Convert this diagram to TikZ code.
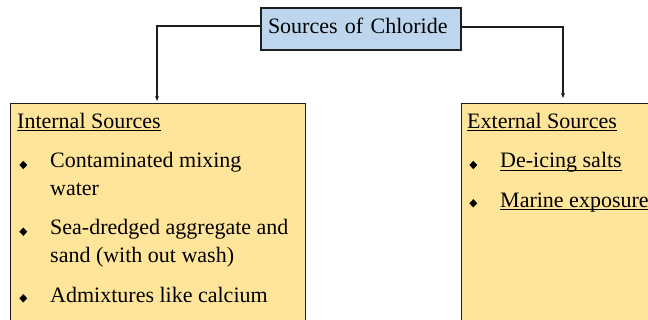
\documentclass[tikz,border=0pt]{standalone}
\usepackage{fontspec}
\setmainfont{Liberation Serif}
\usetikzlibrary{shapes.geometric,arrows.meta}
\definecolor{topfill}{RGB}{189,214,238}
\definecolor{boxfill}{RGB}{255,229,153}
\definecolor{edge}{RGB}{30,30,30}
\newcommand\myul[2][3pt]{\setbox0=\hbox{#2}\rlap{\rule[-#1]{\wd0}{1.1pt}}\box0}
\tikzset{
  txt/.style={anchor=base west, inner sep=0pt, font=\fontsize{22}{26}\selectfont, text=black},
  bul/.style={diamond, fill=black, inner sep=0pt, minimum width=8pt, minimum height=8.5pt},
  ybox/.style={draw=edge, line width=1.1pt, fill=boxfill, anchor=north west, inner sep=0pt},
  conn/.style={draw=edge, line width=1.1pt, -{Stealth[length=5pt,width=4pt]}}
}
\begin{document}
\begin{tikzpicture}[x=1pt,y=-1pt]
\useasboundingbox (0,0) rectangle (648,320);
\clip (0,0) rectangle (648,320);
\fill[white] (0,0) rectangle (648,320);
% boxes
\node[ybox, minimum width=295pt, minimum height=240pt] (int) at (10,103) {};
\node[ybox, minimum width=220pt, minimum height=240pt] (ext) at (461,103) {};
\node[draw=edge, line width=1.1pt, fill=topfill, text width=186pt, align=left,
      inner xsep=7pt, inner ysep=0pt, minimum height=42pt, text height=15pt, text depth=6pt,
      font=\fontsize{22}{26}\selectfont] (top) at (361,29) {Sources of Chloride};
% connectors
\coordinate (lt) at (157,101);
\coordinate (rt) at (563,98);
\draw[conn] ([yshift=3pt]top.west) -| (lt);
\draw[conn] ([yshift=2pt]top.east) -| (rt);
% internal sources
\node[txt] (ih) at (17,129) {\myul[2pt]{Internal Sources}};
\node[bul] (b1) at (23.3,165) {};
\node[txt] (i1a) at (50,168) {Contaminated mixing};
\node[txt] (i1b) at (50,196) {water};
\node[bul] (b2) at (23.3,231.7) {};
\node[txt] (i2a) at (50,235) {Sea-dredged aggregate and};
\node[txt] (i2b) at (50,263) {sand (with out wash)};
\node[bul] (b3) at (23.3,298.3) {};
\node[txt] (i3a) at (50,303) {Admixtures like calcium};
% external sources
\node[txt] (eh) at (467,129) {\myul[2pt]{External Sources}};
\node[bul] (b4) at (473.3,165) {};
\node[txt] (e1) at (500,168) {\myul{De-icing salts}};
\node[bul] (b5) at (473.3,203.3) {};
\node[txt] (e2) at (500,207.5) {\myul{Marine exposure}};
\end{tikzpicture}
\end{document}
